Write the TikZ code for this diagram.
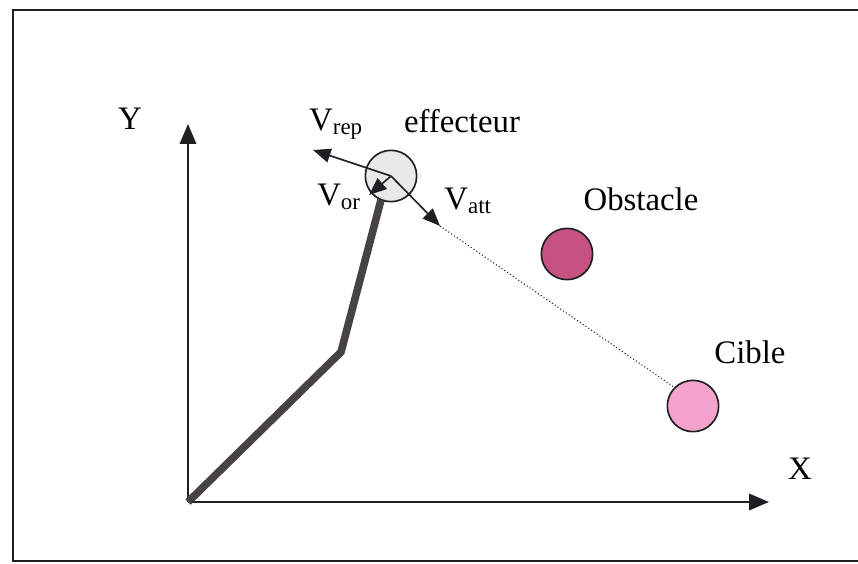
\documentclass[tikz,border=0pt]{standalone}
\usepackage{fontspec}
\setmainfont{Liberation Serif}
\usepackage{xcolor}
\usepackage{tikz}
\usetikzlibrary{arrows.meta, positioning}
\definecolor{FrameBlack}{RGB}{30, 30, 35}
\definecolor{ArmGray}{RGB}{70, 66, 70}
\definecolor{EffectorGray}{RGB}{232, 234, 232}
\definecolor{ObstacleMagenta}{RGB}{198, 82, 130}
\definecolor{TargetPink}{RGB}{244, 164, 204}

\begin{document}
\begin{tikzpicture}[x=0.03cm, y=-0.03cm,
    label text/.style={font=\fontsize{28}{32}\selectfont, inner sep=0pt},
    ball/.style={circle, draw=FrameBlack, line width=1.4pt, minimum size=1.54cm, inner sep=0pt},
    axis/.style={draw=FrameBlack, line width=1.6pt, -{Triangle[length=17pt, width=14pt]}},
    vec/.style={draw=FrameBlack, line width=1.4pt, -{Triangle[length=15pt, width=12pt]}}]
  \useasboundingbox (0,0) rectangle (858,564);
  % frame
  \draw[FrameBlack, line width=1.6pt] (880,10) -| (13,561) -- (880,561);

  % axes
  \coordinate (O) at (188,502);
  \coordinate (ytip) at (188,124);
  \coordinate (xtip) at (769,502);
  \draw[axis] (O) -- (ytip);
  \draw[axis] (O) -- (xtip);
  \node[label text] (ylab) at (130,119) {Y};
  \node[label text] (xlab) at (800,469) {X};

  % objects
  \node[ball, fill=EffectorGray] (eff) at (391,176) {};
  \node[ball, fill=ObstacleMagenta] (obst) at (567,254) {};
  \node[ball, fill=TargetPink] (cible) at (693,406) {};

  % arm
  \coordinate (elbow) at (341,352);
  \coordinate (armend) at (381,200);
  \draw[ArmGray, line width=6.5pt, line join=miter] (O) -- (elbow) -- (armend);

  % vectors
  \coordinate (rep) at (313,150);
  \coordinate (or) at (369,195);
  \coordinate (att) at (440,226);
  \draw[vec] (eff.center) -- (rep);
  \draw[vec] (eff.center) -- (or);
  \draw[vec] (eff.center) -- (att);
  \draw[FrameBlack, line width=0.9pt, dotted] (att) -- (cible.north west);

  % labels
  \node[label text] (replab) at (336,124) {V\textsubscript{rep}};
  \node[label text] (efflab) at (462,121) {effecteur};
  \node[label text] (orlab) at (339,197) {V\textsubscript{or}};
  \node[label text] (attlab) at (468,201) {V\textsubscript{att}};
  \node[label text] (obstlab) at (641,199) {Obstacle};
  \node[label text] (ciblelab) at (750,352) {Cible};
\end{tikzpicture}
\end{document}
